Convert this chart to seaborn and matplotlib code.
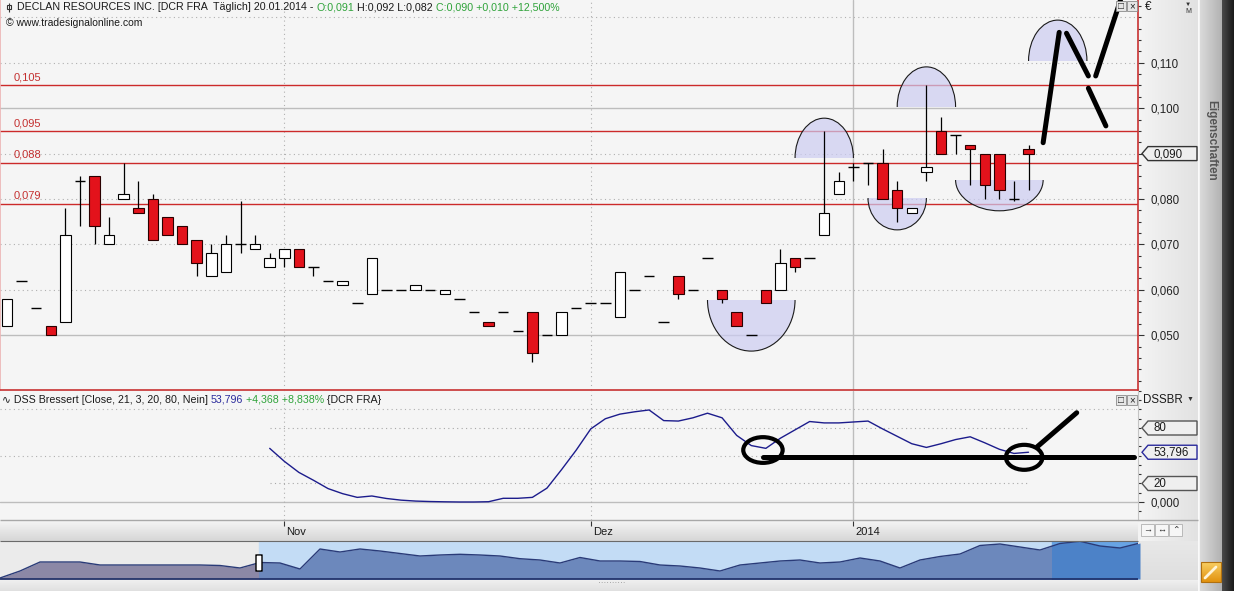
import numpy as np
import pandas as pd
import matplotlib
matplotlib.use("Agg")
import matplotlib.pyplot as plt
import seaborn as sns
from matplotlib.colors import LinearSegmentedColormap
from matplotlib.patches import Rectangle, Ellipse, Polygon, FancyBboxPatch
from matplotlib.ticker import MultipleLocator, FuncFormatter

# daily candles DCR FRA (bar 0 .. bar 70 = 20.01.2014)
opens = [0.052, 0.062, 0.056, 0.052, 0.053, 0.084, 0.085, 0.070, 0.080, 0.078,
         0.080, 0.076, 0.074, 0.071, 0.063, 0.064, 0.070, 0.069, 0.065, 0.067,
         0.069, 0.065, 0.062, 0.061, 0.057, 0.059, 0.060, 0.060, 0.060, 0.060,
         0.059, 0.058, 0.055, 0.053, 0.055, 0.051, 0.055, 0.050, 0.050, 0.056,
         0.057, 0.057, 0.054, 0.060, 0.063, 0.053, 0.063, 0.060, 0.067, 0.060,
         0.055, 0.050, 0.060, 0.060, 0.067, 0.067, 0.072, 0.081, 0.087, 0.088,
         0.088, 0.082, 0.077, 0.086, 0.095, 0.094, 0.092, 0.090, 0.090, 0.080,
         0.091]
highs = [0.058, 0.062, 0.056, 0.052, 0.078, 0.085, 0.085, 0.076, 0.088, 0.084,
         0.081, 0.076, 0.074, 0.071, 0.070, 0.072, 0.0795, 0.072, 0.068, 0.069,
         0.069, 0.065, 0.062, 0.062, 0.057, 0.067, 0.060, 0.060, 0.061, 0.060,
         0.060, 0.058, 0.055, 0.053, 0.055, 0.051, 0.055, 0.050, 0.055, 0.056,
         0.057, 0.057, 0.064, 0.060, 0.063, 0.053, 0.063, 0.060, 0.067, 0.060,
         0.055, 0.050, 0.060, 0.069, 0.067, 0.067, 0.095, 0.086, 0.088, 0.088,
         0.091, 0.084, 0.078, 0.105, 0.098, 0.094, 0.092, 0.090, 0.090, 0.084,
         0.092]
lows = [0.052, 0.062, 0.056, 0.050, 0.053, 0.074, 0.070, 0.070, 0.080, 0.077,
        0.071, 0.072, 0.070, 0.063, 0.063, 0.064, 0.068, 0.069, 0.065, 0.065,
        0.065, 0.063, 0.062, 0.061, 0.057, 0.059, 0.060, 0.060, 0.060, 0.060,
        0.059, 0.058, 0.055, 0.052, 0.055, 0.051, 0.044, 0.050, 0.050, 0.056,
        0.057, 0.057, 0.054, 0.060, 0.063, 0.053, 0.058, 0.060, 0.067, 0.057,
        0.052, 0.050, 0.057, 0.060, 0.064, 0.067, 0.072, 0.081, 0.084, 0.083,
        0.080, 0.075, 0.077, 0.084, 0.090, 0.090, 0.083, 0.080, 0.080, 0.0795,
        0.082]
closes = [0.058, 0.062, 0.056, 0.050, 0.072, 0.084, 0.074, 0.072, 0.081, 0.077,
          0.071, 0.072, 0.070, 0.066, 0.068, 0.070, 0.070, 0.070, 0.067, 0.069,
          0.065, 0.065, 0.062, 0.062, 0.057, 0.067, 0.060, 0.060, 0.061, 0.060,
          0.060, 0.058, 0.055, 0.052, 0.055, 0.051, 0.046, 0.050, 0.055, 0.056,
          0.057, 0.057, 0.064, 0.060, 0.063, 0.053, 0.059, 0.060, 0.067, 0.058,
          0.052, 0.050, 0.057, 0.066, 0.065, 0.067, 0.077, 0.084, 0.087, 0.088,
          0.080, 0.078, 0.078, 0.087, 0.090, 0.094, 0.091, 0.083, 0.082, 0.080,
          0.090]

# DSS Bressert (21, 3) starts at bar 18
dss_start = 18
dss = [58, 44, 32, 23.5, 14.5, 9, 5, 6.5, 3.8, 2, 1, 0.5, 0.2, 0, 0, 0.3, 4, 4,
       5, 15, 35, 56, 79, 90, 95, 97.5, 99.5, 88, 87.5, 91, 96, 91, 72, 61, 58,
       69, 78, 87, 85.5, 85.5, 86.5, 87.5, 79, 71, 63, 59, 63, 67.5, 70.5, 64,
       57, 52.5, 53.796]

month_bars = [19, 40, 58]
month_labels = ["Nov", "Dez", "2014"]

levels = [0.105, 0.095, 0.088, 0.079]
level_labels = ["0,105", "0,095", "0,088", "0,079"]

# overview strip below the time axis
nav_values = [1, 8, 17, 17, 17, 14, 14, 14, 14, 14, 14, 13.5, 11, 16.5, 16, 10,
              30, 27, 30, 28, 25.5, 23, 24, 24.7, 24, 23, 20.3, 19, 16, 21.5,
              18, 18, 17.5, 14, 13, 11, 8, 14, 16, 18, 19, 16, 17, 21, 18, 11,
              19, 22.5, 25, 33.5, 35, 32, 29, 35.5, 37.7, 33, 31, 36]

# hand drawn marks on the price panel: (bar, base price, height, half width, upward)
price_marks = [(51.0, 0.0578, 0.0113, 3.0, False),
               (56.0, 0.0890, 0.0088, 2.0, True),
               (61.0, 0.0802, 0.0070, 2.0, False),
               (63.0, 0.1003, 0.0088, 2.0, True),
               (68.0, 0.0842, 0.0068, 3.0, False),
               (72.0, 0.1104, 0.0090, 2.0, True)]
price_strokes = [((71.0, 0.0924), (72.1, 0.1167)),
                 ((72.6, 0.1165), (74.1, 0.1071)),
                 ((74.1, 0.1044), (75.3, 0.0961)),
                 ((74.6, 0.1071), (76.3, 0.1238))]
dss_rings = [(51.8, 56.2, 2.7, 27.8), (69.7, 48.3, 2.5, 27.0)]
dss_strokes = [((51.8, 48.3), (77.2, 48.3)), ((70.6, 59.8), (73.3, 96.5))]

W, H = 1234, 591
sns.set_style("white")
plt.rcParams["font.family"] = ["Liberation Sans", "DejaVu Sans"]

fig = plt.figure(figsize=(W / 100, H / 100), dpi=100)
fig.patch.set_facecolor("#ececec")


def box(x0, y0, x1, y1):
    return [x0 / W, 1 - y1 / H, (x1 - x0) / W, (y1 - y0) / H]


bg = fig.add_axes([0, 0, 1, 1], zorder=-5)
bg.axis("off")


def grad(x0, y0, x1, y1, c0, c1, horizontal=False):
    cmap = LinearSegmentedColormap.from_list("g", [c0, c1])
    g = np.linspace(0, 1, 64)
    arr = g[None, :] if horizontal else g[:, None]
    bg.imshow(arr, cmap=cmap, extent=[x0, x1, y1, y0], aspect="auto",
              interpolation="bilinear")


grad(1138, 0, 1198, 541, "#f4f4f4", "#e2e2e2", horizontal=True)
grad(1198, 0, 1200, 591, "#ffffff", "#f0f0f0", horizontal=True)
grad(1200, 0, 1222, 591, "#dadada", "#b2b2b2", horizontal=True)
grad(1222, 0, 1234, 591, "#4a4a4a", "#1a1a1a", horizontal=True)
grad(0, 520, 1138, 541, "#f6f6f6", "#d6d6d6")
grad(1138, 541, 1198, 591, "#e8e8e8", "#dcdcdc")
grad(0, 580, 1198, 591, "#f0f0f0", "#e0e0e0")
grad(1201, 562, 1221, 582, "#f9cf62", "#e2920f")
bg.set_xlim(0, W)
bg.set_ylim(H, 0)

# ---------------- price panel ----------------
ax = fig.add_axes(box(0, 0, 1138, 390))
ax.set_facecolor("#f5f5f5")
ax.set_xlim(-0.48, 77.5)
ax.set_ylim(0.03793, 0.12383)

df = pd.DataFrame({"open": opens, "high": highs, "low": lows, "close": closes})
df["bar"] = np.arange(len(df))
up = df[df.close > df.open]
down = df[df.close < df.open]
flat = df[df.close == df.open]

for v in [0.06, 0.07, 0.08, 0.09, 0.11, 0.12]:
    ax.axhline(v, color="#b0b0b0", lw=0.8, ls=(0, (1, 3)), zorder=0.5)
for v in [0.05, 0.10]:
    ax.axhline(v, color="#bdbdbd", lw=1, zorder=0.5)
for b in month_bars[:2]:
    ax.axvline(b, color="#b0b0b0", lw=0.8, ls=(0, (1, 3)), zorder=0.5)
ax.axvline(month_bars[2], color="#bdbdbd", lw=1, zorder=0.5)

for v, lab in zip(levels, level_labels):
    ax.axhline(v, color="#cc2a2a", lw=1, zorder=1.2)
    ax.annotate(lab, xy=(0.012, v), xycoords=("axes fraction", "data"),
                xytext=(0, 2), textcoords="offset points", color="#c43030",
                fontsize=8, va="bottom")

for cx, base, h, hw, upward in price_marks:
    e = Ellipse((cx, base), 2 * hw, 2 * h, fc=(0.80, 0.80, 0.95, 0.7),
                ec="#1a1a1a", lw=0.8, zorder=1.5)
    ax.add_patch(e)
    y0 = base if upward else base - 2 * h
    e.set_clip_path(Rectangle((cx - hw - 1, y0), 2 * hw + 2, 2 * h,
                              transform=ax.transData))

ax.vlines(df.bar, df.low, df.high, color="black", lw=0.9, zorder=2)
ax.bar(up.bar, up.close - up.open, bottom=up.open, width=0.72, color="white",
       edgecolor="black", linewidth=0.8, zorder=3)
ax.bar(down.bar, down.open - down.close, bottom=down.close, width=0.72,
       color="#e3121b", edgecolor="#2a0000", linewidth=0.8, zorder=3)
ax.hlines(flat.close, flat.bar - 0.36, flat.bar + 0.36, color="black", lw=1,
          zorder=3)

for (x0, y0), (x1, y1) in price_strokes:
    ax.plot([x0, x1], [y0, y1], color="black", lw=3.6, solid_capstyle="round",
            zorder=6)

ax.set_xticks([])
ax.yaxis.tick_right()
ax.set_yticks([0.05, 0.06, 0.07, 0.08, 0.09, 0.10, 0.11])
ax.yaxis.set_minor_locator(MultipleLocator(0.0025))
ax.yaxis.set_major_formatter(FuncFormatter(
    lambda v, p: "" if abs(v - 0.09) < 1e-9 else f"{v:.3f}".replace(".", ",")))
ax.tick_params(axis="y", which="major", length=4, width=0.8, color="#333333",
               pad=5, labelsize=8.3, labelcolor="#222222")
ax.tick_params(axis="y", which="minor", length=2, width=0.8, color="#333333")
ax.spines["top"].set_visible(False)
ax.spines["right"].set_color("#c83232")
ax.spines["bottom"].set_color("#c83232")
ax.spines["left"].set_color("#ecb4b4")
for s in ["right", "bottom", "left"]:
    ax.spines[s].set_linewidth(1.2)

# ---------------- DSS panel ----------------
ax2 = fig.add_axes(box(0, 391, 1138, 520))
ax2.set_facecolor("#f5f5f5")
ax2.set_xlim(-0.48, 77.5)
ax2.set_ylim(-19.46, 120)
for v in [100, 50]:
    ax2.axhline(v, color="#b0b0b0", lw=0.8, ls=(0, (1, 3)), zorder=0.5)
ax2.axhline(0, color="#bdbdbd", lw=1, zorder=0.5)
last_bar = len(closes) - 1
ax2.hlines([80, 20], dss_start, last_bar, color="#a8a8a8", lw=0.8,
           ls=(0, (1, 3)), zorder=0.5)
for b in month_bars[:2]:
    ax2.axvline(b, color="#b0b0b0", lw=0.8, ls=(0, (1, 3)), zorder=0.5)
ax2.axvline(month_bars[2], color="#bdbdbd", lw=1, zorder=0.5)

sns.lineplot(x=np.arange(dss_start, dss_start + len(dss)), y=dss, ax=ax2,
             color="#1c1c8c", lw=1, zorder=3)
for cx, cy, w, h in dss_rings:
    ax2.add_patch(Ellipse((cx, cy), w, h, fill=False, ec="black", lw=3,
                          zorder=5))
for (x0, y0), (x1, y1) in dss_strokes:
    ax2.plot([x0, x1], [y0, y1], color="black", lw=3.6,
             solid_capstyle="round", zorder=5)

ax2.set_xticks([])
ax2.set_xlabel("")
ax2.yaxis.tick_right()
ax2.set_yticks([0])
ax2.yaxis.set_minor_locator(MultipleLocator(10))
ax2.yaxis.set_major_formatter(FuncFormatter(lambda v, p: "0,000"))
ax2.tick_params(axis="y", which="major", length=4, width=0.8, color="#333333",
                pad=5, labelsize=8.3, labelcolor="#222222")
ax2.tick_params(axis="y", which="minor", length=2, width=0.8, color="#333333")
for s in ["top", "bottom", "left"]:
    ax2.spines[s].set_visible(False)
ax2.spines["right"].set_color("#c4c4c4")

# ---------------- overview strip ----------------
nav = fig.add_axes(box(0, 541, 1138, 580))
nav.set_xlim(0, 56.9)
nav.set_ylim(-1, 38)
nav.axis("off")
nav_x = np.arange(len(nav_values))
sel0, sel1 = 12.95, 52.6
nav.axvspan(0, sel0, color="#ebebeb", zorder=0)
nav.axvspan(sel0, sel1, color="#c3dcf5", zorder=0)
nav.axvspan(sel1, 60, color="#68a4e4", zorder=0)
for lo, hi, col in [(0, sel0, "#8c88a6"), (sel0, sel1, "#6c88bc"),
                    (sel1, 60, "#4c82c8")]:
    poly = nav.fill_between(nav_x, 0, nav_values, color=col, lw=0, zorder=1)
    poly.set_clip_path(Rectangle((lo, -2), hi - lo, 45, transform=nav.transData))
sns.lineplot(x=nav_x, y=nav_values, ax=nav, color="#2a3b78", lw=1, zorder=2)
nav.axhline(0, color="#1d2d66", lw=1.2, zorder=2)
nav.add_patch(FancyBboxPatch((sel0 - 0.1, 8), 0.2, 16,
                             boxstyle="round,pad=0.05,rounding_size=0.1",
                             fc="white", ec="black", lw=1, zorder=4))

# ---------------- overlay: texts and chrome ----------------
ov = fig.add_axes([0, 0, 1, 1], zorder=10)
ov.set_xlim(0, W)
ov.set_ylim(H, 0)
ov.axis("off")
renderer = fig.canvas.get_renderer()


def parts_text(x, y, parts, size):
    for s, c in parts:
        t = ov.text(x, y, s, color=c, fontsize=size, va="center", ha="left")
        x += t.get_window_extent(renderer).width


green = "#2fa33a"
dark = "#1a1a1a"
ov.vlines(9, 3, 12, color="#333333", lw=0.8)
ov.add_patch(Rectangle((7, 5), 4, 4, fc="white", ec="#333333", lw=0.8))
parts_text(17, 7.5, [("DECLAN RESOURCES INC. [DCR FRA  Täglich] 20.01.2014 - ", dark),
                     ("O:0,091", green), (" H:0,092 L:0,082 ", dark),
                     ("C:0,090 +0,010 +12,500%", green)], 7.7)
ov.text(6, 23.5, "© www.tradesignalonline.com", fontsize=7.5, va="center",
        color=dark)
parts_text(2, 400, [("∿ DSS Bressert [Close, 21, 3, 20, 80, Nein] ", dark),
                    ("53,796", "#2b2b9c"), (" +4,368 +8,838%", green),
                    (" {DCR FRA}", dark)], 7.7)

# window buttons
for yy in [1, 395]:
    for xx, g in [(1116, "□"), (1127, "×")]:
        ov.add_patch(Rectangle((xx, yy), 10, 10, fc="#e6e6e6", ec="#8a8a8a",
                               lw=0.6))
        ov.text(xx + 5, yy + 5.3, g, fontsize=7, ha="center", va="center",
                color="#222222")

ov.text(1145, 7, "€", fontsize=8.5, va="center", color=dark)
ov.text(1188, 4.5, "▼", fontsize=4.5, ha="center", va="center", color="#333333")
ov.text(1188, 11.5, "M", fontsize=5, ha="center", va="center", color="#333333")
ov.text(1143, 400, "DSSBR", fontsize=8.3, va="center", color=dark)
ov.text(1190, 399, "▼", fontsize=5, ha="center", va="center", color="#333333")
ov.text(1211, 140, "Eigenschaften", rotation=-90, ha="center", va="center",
        fontsize=8.5, fontweight="bold", color="#555555")


def tag(axis, value, label, edge):
    y = H - axis.transData.transform((0, value))[1]
    ov.add_patch(Polygon([(1142, y), (1148, y - 7), (1197, y - 7),
                          (1197, y + 7), (1148, y + 7)], closed=True,
                         fc="#efefef", ec=edge, lw=1, zorder=3))
    ov.text(1153, y + 0.5, label, fontsize=8.3, va="center", color=dark,
            zorder=4)


tag(ax, closes[-1], "0,090", "#333333")
tag(ax2, 80, "80", "#555555")
tag(ax2, dss[-1], "53,796", "#2b2b9c")
tag(ax2, 20, "20", "#555555")

# time axis labels
ov.hlines(520, 0, 1198, color="#a8a8a8", lw=1)
ov.hlines(541, 0, 1138, color="#6a6a6a", lw=0.8)
for b, lab in zip(month_bars, month_labels):
    xp = ax.transData.transform((b, 0))[0]
    ov.vlines(xp, 521, 526, color="#333333", lw=0.8)
    ov.text(xp + 2, 532, lab, fontsize=8, va="center", color=dark)

# small buttons under the right axis
for k, g in enumerate(["→", "↔", "⌃"]):
    ov.add_patch(Rectangle((1141 + 14 * k, 524), 13, 12, fc="#f6f6f6",
                           ec="#b0b0b0", lw=0.6))
    ov.text(1147.5 + 14 * k, 530, g, fontsize=6.5, ha="center", va="center",
            color="#333333")
ov.text(612, 584, "··········", fontsize=6, ha="center", va="center",
        color="#888888")
ov.plot([1205, 1216], [578, 567], color="#fff4d8", lw=2)
ov.add_patch(Rectangle((1201, 562), 20, 20, fill=False, ec="#b07010", lw=0.8))

fig.savefig("out.png", dpi=100, facecolor=fig.get_facecolor())
